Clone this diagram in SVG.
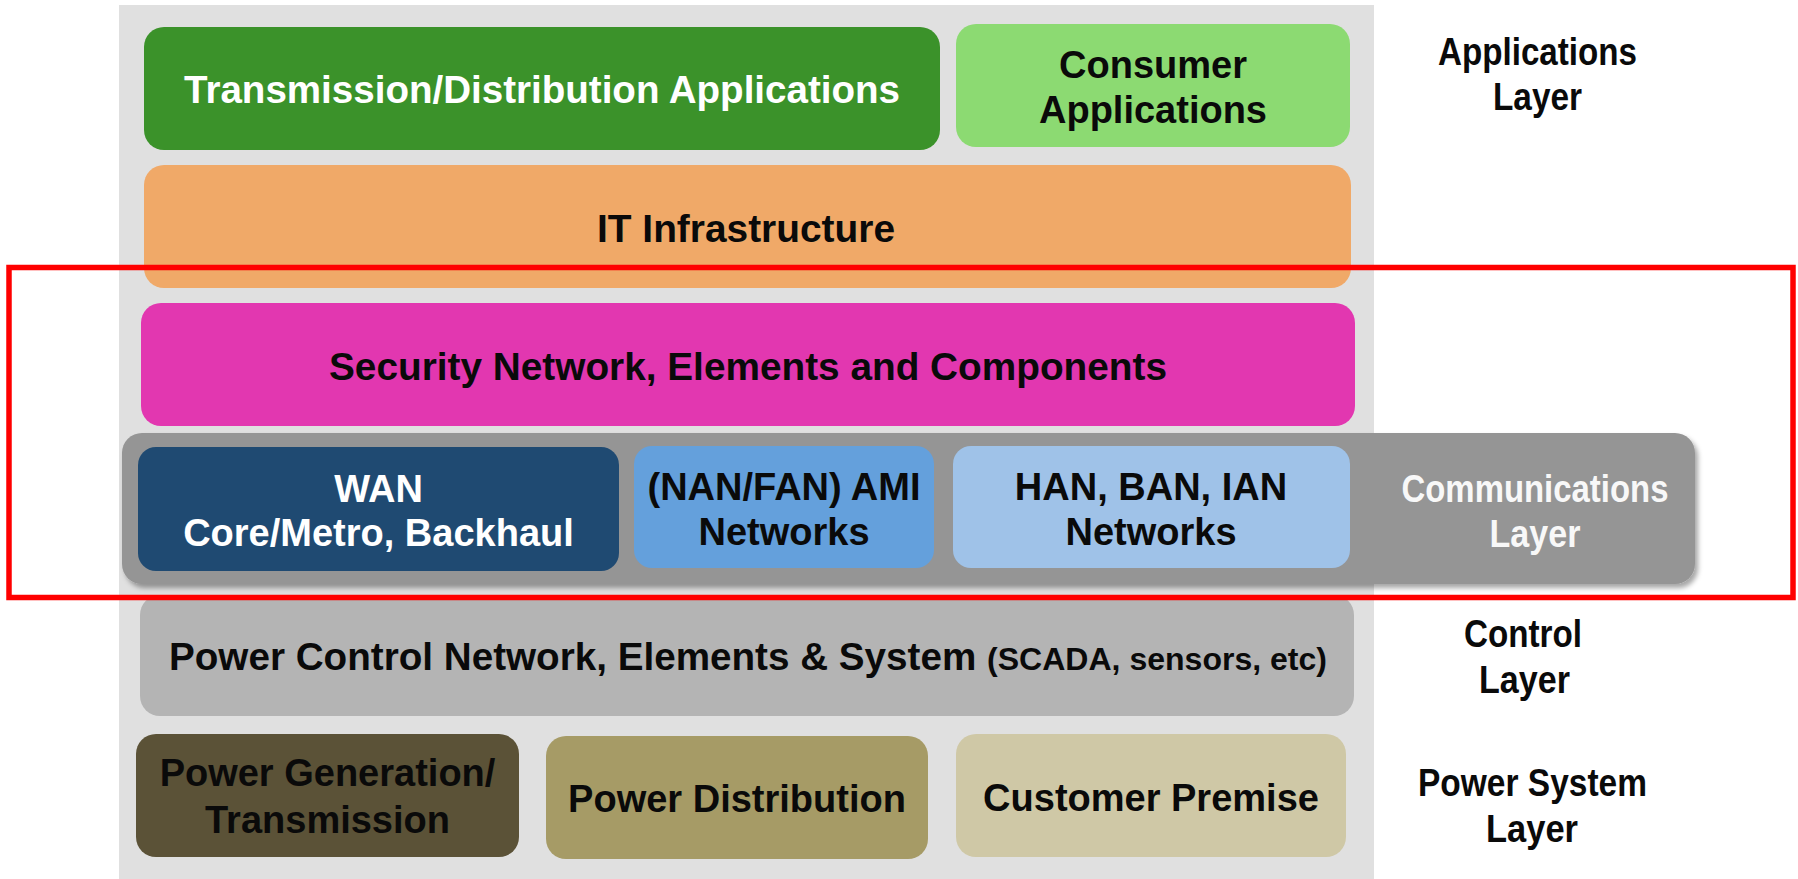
<svg xmlns="http://www.w3.org/2000/svg" width="1798" height="879" viewBox="0 0 1798 879">
  <defs>
    <style>
      .t { font-family: "Liberation Sans", Arial, sans-serif; font-weight: bold; font-size: 38px; text-anchor: middle; }
      .w { fill: #ffffff; }
      .k { fill: #0a0a0a; }
      .lbl { font-family: "Liberation Sans", Arial, sans-serif; font-weight: bold; font-size: 39px; text-anchor: middle; fill: #0a0a0a; }
    </style>
    <filter id="shadow" x="-5%" y="-20%" width="110%" height="140%">
      <feDropShadow dx="3" dy="4" stdDeviation="2.5" flood-color="#000000" flood-opacity="0.35"/>
    </filter>
  </defs>

  <rect id="panel" x="119" y="5" width="1255" height="874" fill="#e0e0e0"/>

  <g id="transmission-distribution-applications">
    <rect x="144" y="27" width="796" height="123" rx="20" fill="#3b922a"/>
    <text class="t w" x="542" y="103" textLength="716" lengthAdjust="spacingAndGlyphs">Transmission/Distribution Applications</text>
  </g>

  <g id="consumer-applications">
    <rect x="956" y="24" width="394" height="123" rx="20" fill="#8cda72"/>
    <text class="t k" x="1153" y="78">Consumer</text>
    <text class="t k" x="1153" y="123">Applications</text>
  </g>

  <g id="it-infrastructure">
    <rect x="144" y="165" width="1207" height="123" rx="20" fill="#f0a968"/>
    <text class="t k" x="746" y="242" textLength="298" lengthAdjust="spacingAndGlyphs">IT Infrastructure</text>
  </g>

  <g id="security">
    <rect x="141" y="303" width="1214" height="123" rx="20" fill="#e237b0"/>
    <text class="t k" x="748" y="380" textLength="838" lengthAdjust="spacingAndGlyphs">Security Network, Elements and Components</text>
  </g>

  <g id="communications-layer">
    <rect x="122" y="433" width="1573" height="151" rx="20" fill="#959595" filter="url(#shadow)"/>
    <text class="lbl" x="1535" y="502" style="fill:#f8f8f8" textLength="267" lengthAdjust="spacingAndGlyphs">Communications</text>
    <text class="lbl" x="1535" y="547" style="fill:#f8f8f8" textLength="91" lengthAdjust="spacingAndGlyphs">Layer</text>
  </g>

  <g id="wan">
    <rect x="138" y="447" width="481" height="124" rx="18" fill="#1f4a72"/>
    <text class="t w" x="378.5" y="502">WAN</text>
    <text class="t w" x="378.5" y="546">Core/Metro, Backhaul</text>
  </g>

  <g id="nan-fan-ami">
    <rect x="634" y="446" width="300" height="122" rx="18" fill="#64a0dc"/>
    <text class="t k" x="784" y="500">(NAN/FAN) AMI</text>
    <text class="t k" x="784" y="545">Networks</text>
  </g>

  <g id="han-ban-ian">
    <rect x="953" y="446" width="397" height="122" rx="18" fill="#9fc2e8"/>
    <text class="t k" x="1151" y="500">HAN, BAN, IAN</text>
    <text class="t k" x="1151" y="545">Networks</text>
  </g>

  <g id="power-control">
    <rect x="140" y="595" width="1214" height="121" rx="20" fill="#b4b4b4"/>
    <text class="t k" x="748" y="670" textLength="1158" lengthAdjust="spacingAndGlyphs">Power Control Network, Elements &amp; System <tspan font-size="31.5">(SCADA, sensors, etc)</tspan></text>
  </g>

  <g id="power-generation-transmission">
    <rect x="136" y="734" width="383" height="123" rx="20" fill="#5b5237"/>
    <text class="t k" x="327.5" y="786">Power Generation/</text>
    <text class="t k" x="327.5" y="833">Transmission</text>
  </g>

  <g id="power-distribution">
    <rect x="546" y="736" width="382" height="123" rx="20" fill="#a69b66"/>
    <text class="t k" x="737" y="812">Power Distribution</text>
  </g>

  <g id="customer-premise">
    <rect x="956" y="734" width="390" height="123" rx="20" fill="#cfc8a6"/>
    <text class="t k" x="1151" y="811">Customer Premise</text>
  </g>

  <g id="applications-layer-label">
    <text class="lbl" x="1537.5" y="65" textLength="199" lengthAdjust="spacingAndGlyphs">Applications</text>
    <text class="lbl" x="1537.5" y="110" textLength="89" lengthAdjust="spacingAndGlyphs">Layer</text>
  </g>

  <g id="control-layer-label">
    <text class="lbl" x="1523" y="647" textLength="118" lengthAdjust="spacingAndGlyphs">Control</text>
    <text class="lbl" x="1524.5" y="693" textLength="91" lengthAdjust="spacingAndGlyphs">Layer</text>
  </g>

  <g id="power-system-layer-label">
    <text class="lbl" x="1532.5" y="796" textLength="229" lengthAdjust="spacingAndGlyphs">Power System</text>
    <text class="lbl" x="1532" y="842" textLength="92" lengthAdjust="spacingAndGlyphs">Layer</text>
  </g>

  <rect id="highlight" x="9" y="267.5" width="1784" height="330" fill="none" stroke="#ff0000" stroke-width="5.5"/>
</svg>
